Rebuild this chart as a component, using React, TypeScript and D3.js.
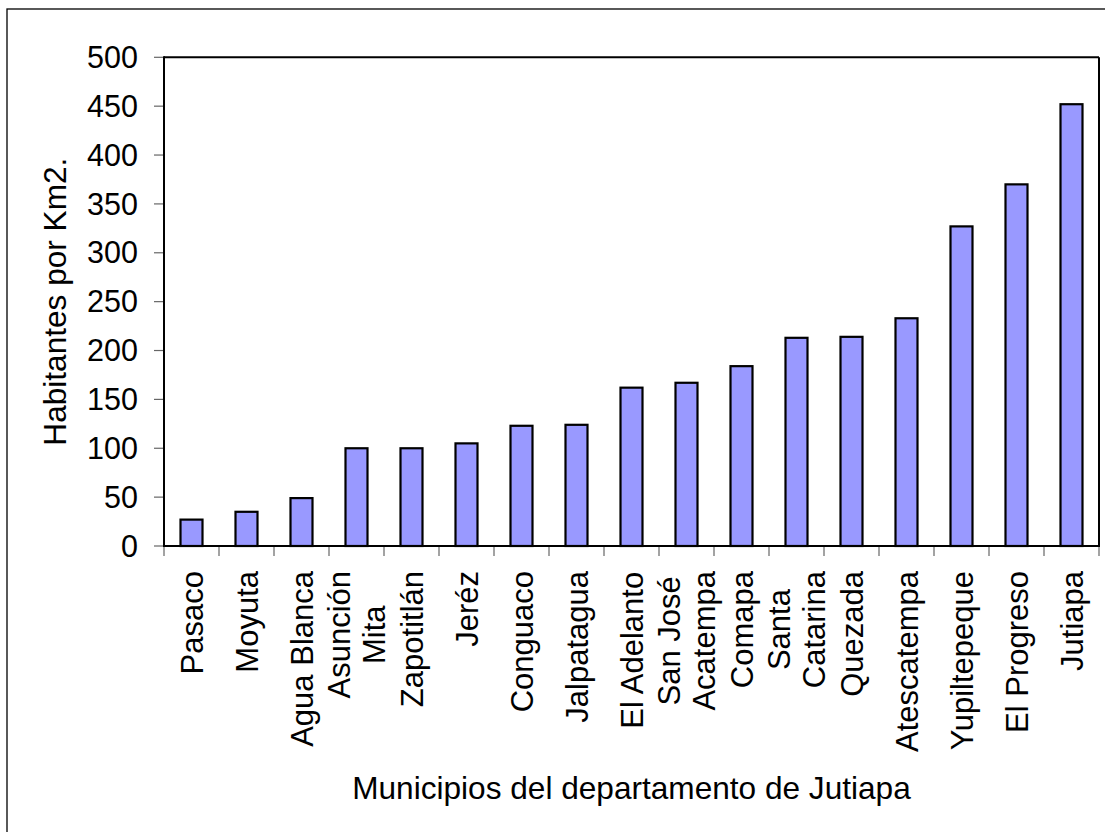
import React, { useMemo } from "react";
import * as d3 from "d3";

const categories = [
  "Pasaco",
  "Moyuta",
  "Agua Blanca",
  "Asunción\nMita",
  "Zapotitlán",
  "Jeréz",
  "Conguaco",
  "Jalpatagua",
  "El Adelanto",
  "San José\nAcatempa",
  "Comapa",
  "Santa\nCatarina",
  "Quezada",
  "Atescatempa",
  "Yupiltepeque",
  "El Progreso",
  "Jutiapa",
];
const values = [27, 35, 49, 100, 100, 105, 123, 124, 162, 167, 184, 213, 214, 233, 327, 370, 452];
const yTicks = [0, 50, 100, 150, 200, 250, 300, 350, 400, 450, 500];
const yTitle = "Habitantes por Km2.";
const xTitle = "Municipios del departamento de Jutiapa";

const W = 1105;
const H = 832;
const FONT = "'Liberation Sans', Arial, sans-serif";
const FS_TICK = 30.5;
const FS_CAT = 31;
const FS_TITLE = 31.6;
const LINE_H = 35;

const plot = { left: 164, right: 1099, top: 57.3, bottom: 546 };

function measure(text: string): number {
  const c = document.createElement("canvas").getContext("2d");
  if (!c) return text.length * FS_CAT * 0.5;
  c.font = `${FS_CAT}px 'Liberation Sans', Arial, sans-serif`;
  return c.measureText(text).width;
}

export default function App() {
  const x = d3
    .scaleBand<string>()
    .domain(categories)
    .range([plot.left, plot.right])
    .paddingInner(0.6)
    .paddingOuter(0.3);
  const y = d3.scaleLinear().domain([0, 500]).range([plot.bottom, plot.top]);
  const step = x.step();

  const labelInfo = useMemo(
    () =>
      categories.map((c) => {
        const lines = c.split("\n");
        const maxW = Math.max(...lines.map(measure));
        return { lines, maxW };
      }),
    []
  );

  const boundaries = d3.range(categories.length + 1).map((i) => plot.left + i * step);

  return (
    <svg
      width={W}
      height={H}
      style={{ position: "absolute", left: 0, top: 0, background: "#fff" }}
      fontFamily={FONT}
    >
      <rect x={0} y={0} width={W} height={H} fill="#fff" />
      {/* outer frame */}
      <rect x={7} y={9} width={1300} height={1000} fill="none" stroke="#000" strokeWidth={1.3} />

      {/* plot frame */}
      <line x1={plot.left} x2={plot.right} y1={plot.top} y2={plot.top} stroke="#000" strokeWidth={2} />
      <line x1={plot.right} x2={plot.right} y1={plot.top} y2={plot.bottom} stroke="#000" strokeWidth={2} />

      {/* bars */}
      {categories.map((c, i) => (
        <rect
          key={c}
          x={x(c)!}
          y={y(values[i])}
          width={x.bandwidth()}
          height={y(0) - y(values[i])}
          fill="#9999FF"
          stroke="#000"
          strokeWidth={2.2}
        />
      ))}

      {/* y ticks */}
      {yTicks.map((t) => (
        <g key={t}>
          <line x1={plot.left - 10} x2={plot.left} y1={y(t)} y2={y(t)} stroke="#666" strokeWidth={1.2} />
          <text x={138} y={y(t)} dy="0.35em" textAnchor="end" fontSize={FS_TICK} fill="#000">
            {t}
          </text>
        </g>
      ))}

      {/* x ticks */}
      {boundaries.map((bx, i) => (
        <line key={i} x1={bx} x2={bx} y1={plot.bottom} y2={plot.bottom + 10} stroke="#666" strokeWidth={1.2} />
      ))}

      {/* axes */}
      <line x1={plot.left} x2={plot.left} y1={plot.top - 1} y2={plot.bottom} stroke="#000" strokeWidth={2} />
      <line x1={plot.left - 1} x2={plot.right + 1} y1={plot.bottom} y2={plot.bottom} stroke="#000" strokeWidth={2} />

      {/* category labels */}
      {categories.map((c, i) => {
        const cx = x(c)! + x.bandwidth() / 2;
        const { lines, maxW } = labelInfo[i];
        const n = lines.length;
        return lines.map((ln, j) => (
          <text
            key={c + j}
            transform={`translate(${cx + 11 + (j - (n - 1) / 2) * LINE_H},${571 + maxW / 2}) rotate(-90)`}
            textAnchor="middle"
            fontSize={FS_CAT}
            fill="#000"
          >
            {ln}
          </text>
        ));
      })}

      {/* axis titles */}
      <text
        x={(plot.left + plot.right) / 2}
        y={799}
        textAnchor="middle"
        fontSize={FS_TITLE}
        fill="#000"
      >
        {xTitle}
      </text>
      <text
        transform={`translate(66,${(plot.top + plot.bottom) / 2}) rotate(-90)`}
        textAnchor="middle"
        fontSize={FS_TITLE}
        fill="#000"
      >
        {yTitle}
      </text>
    </svg>
  );
}
